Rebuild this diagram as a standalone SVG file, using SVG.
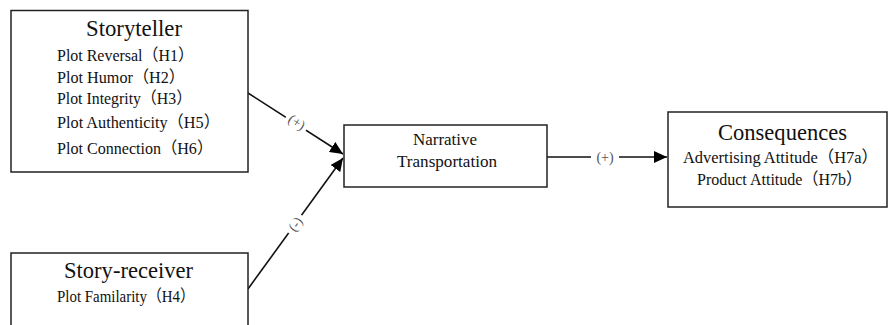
<svg xmlns="http://www.w3.org/2000/svg" width="890" height="325" viewBox="0 0 890 325">
<style>
.box{fill:#fff;stroke:#222;stroke-width:1.5}
text{font-family:"Liberation Serif","Times New Roman","DejaVu Serif","Noto Sans CJK SC",serif}
.title{font-size:23px;fill:#111}
.item{font-size:16.5px;fill:#111}
.conn{stroke:#111;stroke-width:1.6;fill:none}
.lbl{font-size:14px;fill:#555}
</style>
<defs>
<marker id="arr" markerUnits="userSpaceOnUse" markerWidth="14" markerHeight="12" refX="13" refY="6" orient="auto">
<path d="M0,0 L13,6 L0,12 z" fill="#000"/>
</marker>
</defs>
<rect width="890" height="325" fill="#fff"/>
<g id="connectors">
<line class="conn" x1="248" y1="93" x2="343" y2="154" marker-end="url(#arr)"/>
<line class="conn" x1="248" y1="289" x2="343" y2="158" marker-end="url(#arr)"/>
<line class="conn" x1="547" y1="157" x2="591" y2="157"/>
<line class="conn" x1="619" y1="157" x2="667" y2="157" marker-end="url(#arr)"/>
<g transform="rotate(33 297 122)">
<rect x="285" y="114" width="24" height="16" fill="#fff"/>
<text class="lbl" x="297" y="127" text-anchor="middle">(+)</text>
</g>
<g transform="rotate(-54 295 224)">
<rect x="284" y="216" width="22" height="16" fill="#fff"/>
<text class="lbl" x="295" y="229" text-anchor="middle">(-)</text>
</g>
<text class="lbl" x="605" y="162" text-anchor="middle">(+)</text>
</g>
<g id="storyteller">
<rect class="box" x="11" y="10.5" width="237" height="161.5"/>
<text class="title" x="134" y="36" text-anchor="middle" textLength="96" lengthAdjust="spacingAndGlyphs">Storyteller</text>
<text class="item" x="57" y="61" textLength="137" lengthAdjust="spacingAndGlyphs">Plot Reversal（H1）</text>
<text class="item" x="57" y="83" textLength="128" lengthAdjust="spacingAndGlyphs">Plot Humor（H2）</text>
<text class="item" x="57" y="104" textLength="135" lengthAdjust="spacingAndGlyphs">Plot Integrity（H3）</text>
<text class="item" x="57" y="128" textLength="163" lengthAdjust="spacingAndGlyphs">Plot Authenticity（H5）</text>
<text class="item" x="57" y="154" textLength="156" lengthAdjust="spacingAndGlyphs">Plot Connection（H6）</text>
</g>
<g id="story-receiver">
<rect class="box" x="11" y="253" width="237" height="90"/>
<text class="title" x="128.5" y="278" text-anchor="middle" textLength="129" lengthAdjust="spacingAndGlyphs">Story-receiver</text>
<text class="item" x="57" y="302" textLength="138" lengthAdjust="spacingAndGlyphs">Plot Familarity（H4）</text>
</g>
<g id="narrative">
<rect class="box" x="344" y="125" width="203" height="62"/>
<text class="item" x="445" y="145" text-anchor="middle" textLength="64" lengthAdjust="spacingAndGlyphs">Narrative</text>
<text class="item" x="447" y="167" text-anchor="middle" textLength="100" lengthAdjust="spacingAndGlyphs">Transportation</text>
</g>
<g id="consequences">
<rect class="box" x="668" y="112" width="219" height="95"/>
<text class="title" x="782.5" y="140" text-anchor="middle" textLength="129" lengthAdjust="spacingAndGlyphs">Consequences</text>
<text class="item" x="683" y="163" textLength="195" lengthAdjust="spacingAndGlyphs">Advertising Attitude（H7a）</text>
<text class="item" x="697" y="185" textLength="165" lengthAdjust="spacingAndGlyphs">Product Attitude（H7b）</text>
</g>
</svg>
